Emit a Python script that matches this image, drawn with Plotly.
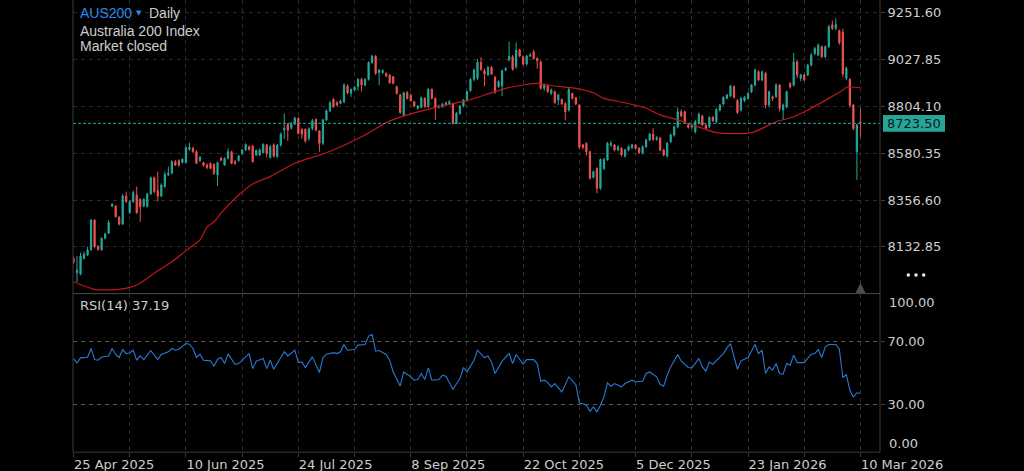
import plotly.graph_objects as go

W, H = 1024, 471

# ---------------- data ----------------
bars = list(range(225))

opens = [
    8078, 8010, 8003, 8078, 8094, 8118, 8261, 8134, 8118, 8174,
    8198, 8328, 8328, 8274, 8242, 8376, 8297, 8349, 8381, 8360,
    8328, 8325, 8386, 8464, 8402, 8376, 8421, 8477, 8485, 8540,
    8545, 8536, 8536, 8599, 8604, 8588, 8545, 8536, 8524, 8532,
    8528, 8477, 8556, 8524, 8556, 8588, 8540, 8545, 8580, 8596,
    8612, 8615, 8572, 8572, 8583, 8620, 8561, 8620, 8564, 8620,
    8692, 8718, 8700, 8720, 8748, 8695, 8695, 8652, 8698, 8742,
    8687, 8628, 8740, 8784, 8838, 8822, 8819, 8827, 8902, 8867,
    8883, 8899, 8934, 8907, 8934, 9014, 9045, 8966, 8966, 8962,
    8955, 8946, 8899, 8859, 8763, 8870, 8858, 8827, 8795, 8800,
    8843, 8803, 8886, 8843, 8800, 8803, 8811, 8816, 8816, 8723,
    8771, 8806, 8832, 8880, 8934, 8939, 9015, 8975, 8955, 8991,
    8943, 8899, 8902, 8978, 9026, 9042, 8994, 9074, 9042, 9007,
    9045, 9066, 9034, 9018, 8891, 8902, 8867, 8875, 8835, 8838,
    8819, 8787, 8867, 8846, 8811, 8620, 8628, 8588, 8465, 8508,
    8413, 8508, 8548, 8620, 8620, 8596, 8604, 8567, 8596, 8607,
    8620, 8604, 8583, 8612, 8644, 8672, 8647, 8652, 8596, 8567,
    8636, 8668, 8707, 8779, 8779, 8716, 8705, 8684, 8724, 8759,
    8716, 8708, 8752, 8731, 8787, 8816, 8843, 8854, 8899, 8832,
    8787, 8832, 8843, 8875, 8907, 8970, 8931, 8963, 8811, 8851,
    8851, 8907, 8787, 8803, 8914, 8906, 9018, 8939, 8955, 8955,
    9002, 9058, 9050, 9090, 9042, 9090, 9194, 9178, 9166, 9160,
    8939, 8934, 8811, 8588, 8730,
]
highs = [
    8086, 8090, 8105, 8110, 8134, 8265, 8265, 8142, 8178, 8201,
    8261, 8341, 8333, 8281, 8386, 8397, 8357, 8402, 8421, 8365,
    8365, 8392, 8469, 8469, 8493, 8437, 8493, 8517, 8548, 8548,
    8552, 8556, 8612, 8631, 8612, 8596, 8567, 8540, 8532, 8537,
    8532, 8540, 8564, 8561, 8604, 8593, 8548, 8574, 8601, 8628,
    8617, 8620, 8599, 8604, 8628, 8625, 8620, 8628, 8625, 8680,
    8771, 8725, 8730, 8755, 8752, 8700, 8700, 8705, 8745, 8748,
    8690, 8745, 8790, 8830, 8845, 8830, 8836, 8915, 8910, 8890,
    8902, 8940, 8942, 8940, 9020, 9052, 9050, 8984, 8982, 8968,
    8960, 8950, 8905, 8865, 8875, 8878, 8865, 8832, 8812, 8852,
    8848, 8892, 8890, 8848, 8812, 8822, 8828, 8835, 8822, 8778,
    8812, 8840, 8880, 8940, 8985, 9030, 9040, 8985, 8998, 8998,
    8950, 8930, 8980, 8992, 9114, 9050, 9110, 9080, 9048, 9050,
    9060, 9075, 9040, 9025, 8912, 8910, 8890, 8880, 8865, 8842,
    8824, 8892, 8870, 8850, 8815, 8625, 8632, 8592, 8498, 8513,
    8556, 8560, 8635, 8640, 8625, 8618, 8610, 8602, 8618, 8625,
    8625, 8610, 8618, 8650, 8678, 8700, 8662, 8658, 8600, 8635,
    8675, 8712, 8800, 8790, 8785, 8722, 8720, 8740, 8775, 8765,
    8722, 8758, 8758, 8796, 8816, 8853, 8865, 8908, 8905, 8840,
    8850, 8855, 8872, 8912, 8985, 8978, 8976, 8970, 8880, 8856,
    8915, 8912, 8818, 8880, 8920, 9060, 9025, 8960, 8960, 9008,
    9060, 9090, 9105, 9096, 9096, 9195, 9215, 9226, 9172, 9175,
    8995, 8940, 8815, 8722, 8797,
]
lows = [
    8051, 7965, 7997, 8073, 8089, 8115, 8126, 8115, 8115, 8169,
    8195, 8322, 8274, 8236, 8237, 8344, 8290, 8344, 8290, 8253,
    8322, 8322, 8381, 8389, 8349, 8370, 8416, 8472, 8481, 8520,
    8516, 8532, 8532, 8593, 8583, 8529, 8539, 8516, 8504, 8504,
    8477, 8424, 8542, 8520, 8551, 8528, 8526, 8540, 8575, 8591,
    8593, 8536, 8567, 8567, 8580, 8560, 8555, 8560, 8560, 8612,
    8650, 8640, 8695, 8715, 8670, 8650, 8630, 8640, 8690, 8685,
    8588, 8620, 8735, 8778, 8798, 8805, 8815, 8820, 8862, 8850,
    8878, 8880, 8875, 8900, 8928, 9008, 8955, 8906, 8960, 8944,
    8912, 8910, 8860, 8770, 8755, 8838, 8827, 8800, 8790, 8795,
    8798, 8798, 8838, 8740, 8795, 8798, 8806, 8810, 8718, 8720,
    8765, 8800, 8828, 8875, 8925, 8930, 8975, 8900, 8950, 8955,
    8865, 8893, 8855, 8972, 9020, 8975, 8985, 9040, 9000, 9000,
    9040, 9028, 8985, 8885, 8880, 8870, 8860, 8818, 8810, 8812,
    8740, 8780, 8838, 8810, 8600, 8600, 8570, 8455, 8460, 8389,
    8405, 8500, 8545, 8610, 8590, 8590, 8565, 8560, 8590, 8600,
    8598, 8578, 8575, 8605, 8638, 8640, 8640, 8590, 8565, 8560,
    8630, 8660, 8700, 8752, 8725, 8698, 8698, 8675, 8718, 8710,
    8692, 8700, 8730, 8725, 8780, 8810, 8838, 8848, 8842, 8768,
    8780, 8825, 8838, 8868, 8900, 8925, 8925, 8795, 8800, 8830,
    8845, 8780, 8740, 8795, 8890, 8900, 8940, 8925, 8925, 8950,
    8995, 9050, 9045, 9035, 9035, 9085, 9170, 9170, 9100, 8945,
    8930, 8800, 8690, 8453, 8657,
]
closes = [
    8058, 8022, 8089, 8099, 8118, 8261, 8134, 8121, 8174, 8195,
    8249, 8338, 8277, 8242, 8376, 8349, 8349, 8392, 8297, 8325,
    8360, 8386, 8464, 8397, 8376, 8429, 8480, 8485, 8540, 8524,
    8524, 8552, 8607, 8609, 8588, 8532, 8561, 8523, 8513, 8508,
    8485, 8536, 8548, 8556, 8588, 8532, 8532, 8567, 8596, 8623,
    8599, 8540, 8593, 8596, 8623, 8580, 8612, 8567, 8620, 8672,
    8700, 8692, 8720, 8748, 8676, 8672, 8640, 8698, 8736, 8692,
    8628, 8740, 8784, 8822, 8803, 8811, 8830, 8907, 8870, 8886,
    8896, 8934, 8907, 8934, 9014, 9045, 8962, 8978, 8976, 8950,
    8918, 8915, 8867, 8775, 8870, 8843, 8832, 8806, 8806, 8846,
    8803, 8886, 8843, 8800, 8806, 8816, 8822, 8827, 8723, 8771,
    8806, 8835, 8875, 8934, 8979, 9015, 8982, 8959, 8991, 8959,
    8873, 8923, 8975, 8986, 9045, 8982, 9074, 9045, 9007, 9045,
    9050, 9034, 9023, 8891, 8907, 8875, 8883, 8822, 8859, 8816,
    8779, 8886, 8843, 8816, 8609, 8609, 8588, 8461, 8492, 8413,
    8551, 8551, 8628, 8628, 8596, 8612, 8572, 8596, 8612, 8620,
    8604, 8583, 8612, 8644, 8672, 8647, 8656, 8596, 8572, 8628,
    8668, 8707, 8779, 8759, 8732, 8705, 8712, 8732, 8768, 8716,
    8700, 8752, 8736, 8790, 8811, 8848, 8859, 8902, 8848, 8775,
    8843, 8848, 8867, 8907, 8979, 8931, 8970, 8811, 8875, 8843,
    8907, 8795, 8811, 8875, 8898, 9018, 8955, 8955, 8931, 9002,
    9050, 9082, 9098, 9042, 9090, 9186, 9178, 9196, 9109, 8960,
    8987, 8811, 8699, 8715, 8723.5,
]

# moving average (red line), read at sampled bars
ma_x = [0, 6, 13, 18, 23, 28, 32, 36, 38, 40, 42, 47, 51, 56, 63, 72, 83, 89, 95,
        100, 106, 112, 117, 123, 128, 132, 137, 143, 148, 151, 157, 163, 167, 172,
        176, 179, 183, 193, 200, 205, 209, 215, 219, 220, 224]
ma_y = [7966, 7930, 7930, 7951, 8007, 8062, 8115, 8166, 8229, 8253, 8294, 8381, 8434,
        8469, 8533, 8583, 8668, 8727, 8764, 8787, 8811, 8832, 8859, 8891, 8907, 8915,
        8902, 8891, 8870, 8843, 8822, 8796, 8764, 8740, 8716, 8700, 8679, 8679, 8731,
        8755, 8787, 8843, 8883, 8896, 8894]

# RSI(14)
rsi_x = [0, 1, 2, 4, 5, 6, 7, 8, 10, 11, 12, 13, 14, 15, 16, 17, 18, 19, 20, 22, 24, 25,
         27, 28, 29, 30, 32, 33, 34, 35, 36, 37, 39, 40, 41, 42, 43, 44, 46, 47, 50, 51,
         52, 54, 55, 56, 57, 60, 61, 63, 64, 65, 66, 68, 70, 71, 72, 74, 75, 76, 77, 78,
         80, 81, 83, 84, 85, 86, 87, 89, 90, 91, 93, 94, 96, 97, 98, 99, 100, 101, 102,
         104, 105, 106, 108, 110, 111, 112, 114, 115, 117, 118, 119, 120, 122, 124, 125,
         126, 128, 129, 131, 132, 133, 134, 135, 136, 137, 138, 139, 141, 143, 144, 145,
         146, 147, 148, 149, 150, 151, 152, 153, 154, 156, 157, 159, 160, 162, 163, 164,
         166, 167, 168, 169, 170, 172, 173, 175, 176, 178, 179, 180, 181, 182, 184, 185,
         186, 187, 189, 190, 192, 193, 194, 195, 196, 197, 198, 199, 200, 201, 202, 203,
         204, 205, 206, 208, 209, 210, 211, 212, 213, 214, 215, 217, 218, 219, 220, 221,
         222, 223, 224]
rsi_y = [59.0, 56.3, 59.5, 59.9, 65.4, 58.4, 58.0, 60.0, 60.7, 65.4, 61.6, 59.7, 64.7,
         62.2, 62.6, 64.3, 58.0, 60.7, 58.4, 64.1, 58.4, 61.6, 63.3, 65.4, 64.3, 64.9,
         68.5, 68.1, 65.4, 59.7, 61.8, 58.0, 57.6, 54.2, 58.6, 59.7, 55.9, 62.0, 55.3,
         55.9, 62.2, 52.7, 57.4, 59.1, 52.7, 58.0, 52.3, 63.3, 60.7, 64.3, 56.5, 56.9,
         53.4, 60.1, 50.2, 59.5, 61.8, 62.8, 62.2, 63.3, 67.9, 64.3, 64.9, 67.5, 67.9,
         73.2, 74.2, 63.7, 64.1, 61.6, 58.0, 50.6, 41.8, 50.6, 47.5, 45.4, 45.8, 49.6,
         45.8, 53.2, 45.4, 45.8, 48.5, 47.9, 39.7, 46.4, 53.4, 50.6, 58.0, 64.3, 59.5,
         60.7, 56.9, 49.6, 57.4, 62.2, 55.9, 61.6, 55.5, 58.4, 58.4, 55.9, 44.7, 45.4,
         43.9, 41.2, 43.3, 40.7, 38.0, 47.5, 42.6, 31.0, 30.6, 29.6, 25.8, 28.5, 25.4,
         29.6, 34.8, 43.7, 41.6, 43.3, 41.2, 43.3, 45.4, 44.3, 44.7, 49.6, 50.6, 47.5,
         42.8, 41.6, 48.5, 53.8, 61.6, 57.4, 53.4, 53.2, 59.0, 53.8, 51.1, 56.9, 55.5,
         59.9, 62.2, 65.8, 68.5, 52.3, 57.6, 59.7, 63.7, 67.9, 62.2, 64.3, 49.6, 53.8,
         51.7, 55.9, 49.6, 49.2, 55.9, 54.8, 61.2, 56.5, 56.5, 59.1, 61.8, 62.2, 64.7,
         59.7, 66.4, 67.9, 67.9, 64.9, 47.1, 48.9, 39.0, 34.8, 37.5, 37.19]

price_ticks = [8132.85, 8356.60, 8580.35, 8804.10, 9027.85, 9251.60]
rsi_ticks = [30, 70]
rsi_tick_text = ["30.00", "70.00"]
date_tick_pos = list(range(0, 225, 16))
date_tick_text = ["25 Apr 2025", "", "10 Jun 2025", "", "24 Jul 2025", "", "8 Sep 2025", "",
                  "22 Oct 2025", "", "5 Dec 2025", "", "23 Jan 2026", "", "10 Mar 2026"]
last_price = 8723.50
rsi_last = 37.19
symbol = "AUS200"
interval = "Daily"
instrument = "Australia 200 Index"
status = "Market closed"

# ---------------- layout helpers (pixels) ----------------
PL, PR = 73, 880          # plot left / right
SEP = 293.6               # price / RSI separator
BOT = 452.2               # bottom of RSI panel
def fx(px): return px / W
def fy(px): return 1 - px / H

UP = "#26a69a"
DN = "#ef5350"
TXT = "#cdcdcd"
GRID = "#2c2c2c"
BORDER = "#3b3b3b"
AXFONT = dict(family="DejaVu Sans", size=13, color=TXT)
HDFONT = "Liberation Sans"

fig = go.Figure()

fig.add_trace(go.Candlestick(
    x=bars, open=opens, high=highs, low=lows, close=closes,
    increasing=dict(line=dict(color=UP, width=1), fillcolor=UP),
    decreasing=dict(line=dict(color=DN, width=1), fillcolor=DN),
    whiskerwidth=0, xaxis="x", yaxis="y", hoverinfo="skip", showlegend=False))

fig.add_trace(go.Scatter(
    x=ma_x, y=ma_y, mode="lines", xaxis="x", yaxis="y",
    line=dict(color="#c0161c", width=1.2, shape="spline", smoothing=0.7),
    hoverinfo="skip", showlegend=False))

fig.add_trace(go.Scatter(
    x=rsi_x, y=rsi_y, mode="lines", xaxis="x2", yaxis="y2",
    line=dict(color="#2a78d4", width=1.1),
    hoverinfo="skip", showlegend=False))

xr = [(PL - 73.5) / 3.513, (PR - 73.5) / 3.513]
common_x = dict(range=xr, showgrid=True, gridcolor=GRID, griddash="4px,4px", gridwidth=1,
                zeroline=False, tickmode="array", tickvals=date_tick_pos,
                domain=[fx(PL), fx(PR)], automargin=False, fixedrange=True)

price_top, price_bot = 9313.3, 7909.6

fig.update_layout(
    width=W, height=H,
    margin=dict(l=0, r=0, t=0, b=0, pad=0),
    paper_bgcolor="#000000", plot_bgcolor="#000000",
    showlegend=False, hovermode=False, boxgap=0.5,
    xaxis=dict(**common_x, anchor="y", showticklabels=False, ticks="",
               rangeslider=dict(visible=False)),
    xaxis2=dict(**common_x, anchor="y2", matches="x", ticktext=date_tick_text,
                showticklabels=True, ticks="outside", ticklen=4, tickcolor=BORDER,
                ticklabelposition="outside right", tickfont=AXFONT),
    yaxis=dict(domain=[fy(SEP), 1], range=[price_bot, price_top], side="right",
               anchor="x", tickmode="array", tickvals=price_ticks, tickformat=".2f",
               showgrid=True, gridcolor=GRID, griddash="4px,4px", zeroline=False,
               ticks="outside", ticklen=4, tickcolor=BORDER, tickfont=AXFONT,
               automargin=False, fixedrange=True),
    yaxis2=dict(domain=[fy(BOT), fy(SEP)], range=[0, 100], side="right",
                anchor="x2", tickmode="array", tickvals=rsi_ticks, ticktext=rsi_tick_text,
                showgrid=True, gridcolor="#5a5a5a", griddash="4px,4px", zeroline=False,
                ticks="outside", ticklen=4, tickcolor=BORDER, tickfont=AXFONT,
                automargin=False, fixedrange=True),
)

shapes = []
# last price dashed line
shapes.append(dict(type="line", xref="x domain", yref="y", x0=0, x1=1,
                   y0=last_price, y1=last_price,
                   line=dict(color=UP, width=1, dash="3px,2px")))
# borders
for (x0, y0, x1, y1, c) in [(PL, 0, PL, BOT, BORDER), (PR, 0, PR, BOT, BORDER),
                            (PL, SEP, PR, SEP, "#4a4a4a"), (PL, BOT, PR, BOT, BORDER)]:
    shapes.append(dict(type="line", xref="paper", yref="paper",
                       x0=fx(x0), x1=fx(x1), y0=fy(y0), y1=fy(y1),
                       line=dict(color=c, width=1)))
# last price box
shapes.append(dict(type="rect", xref="paper", yref="y", ysizemode="pixel",
                   yanchor=last_price, y0=-8.3, y1=8.3,
                   x0=fx(883), x1=fx(945), fillcolor=UP, line=dict(width=0)))
# triangle marker
shapes.append(dict(type="path", xref="paper", yref="paper",
                   path="M %f,%f L %f,%f L %f,%f Z" % (fx(855.5), fy(293), fx(865.5), fy(293),
                                                      fx(860.5), fy(283)),
                   fillcolor="#4d4d4d", line=dict(width=0)))
# three dots
for cx in (908.3, 916.0, 923.7):
    shapes.append(dict(type="circle", xref="paper", yref="paper",
                       x0=fx(cx - 1.8), x1=fx(cx + 1.8), y0=fy(275 + 1.8), y1=fy(275 - 1.8),
                       fillcolor="#e8e8e8", line=dict(width=0)))
fig.update_layout(shapes=shapes)

ann = []
def text(x, y, s, color=TXT, size=14, family=HDFONT, xanchor="left", yref="paper"):
    ann.append(dict(x=fx(x), y=(fy(y) if yref == "paper" else y), xref="paper", yref=yref,
                    text=s, showarrow=False, xanchor=xanchor, yanchor="middle",
                    font=dict(family=family, size=size, color=color)))

text(78, 13, symbol, color="#2a8ae6")
text(138.5, 13.5, "▼", color="#2a8ae6", size=7, family="DejaVu Sans", xanchor="center")
text(146.5, 13, interval)
text(78, 31, instrument)
text(78, 46, status)
text(78, 305.5, "RSI(14) %.2f" % rsi_last, family="DejaVu Sans", size=13)
text(914, last_price, "%.2f" % last_price, color="#0a1a18", size=13,
     family="DejaVu Sans", xanchor="center", yref="y")
text(887, 302.3, "100.00", family="DejaVu Sans", size=13)
text(887, 443.7, "0.00", family="DejaVu Sans", size=13)
fig.update_layout(annotations=ann)

fig.write_html("out.html", include_plotlyjs=True, config={"displayModeBar": False})
